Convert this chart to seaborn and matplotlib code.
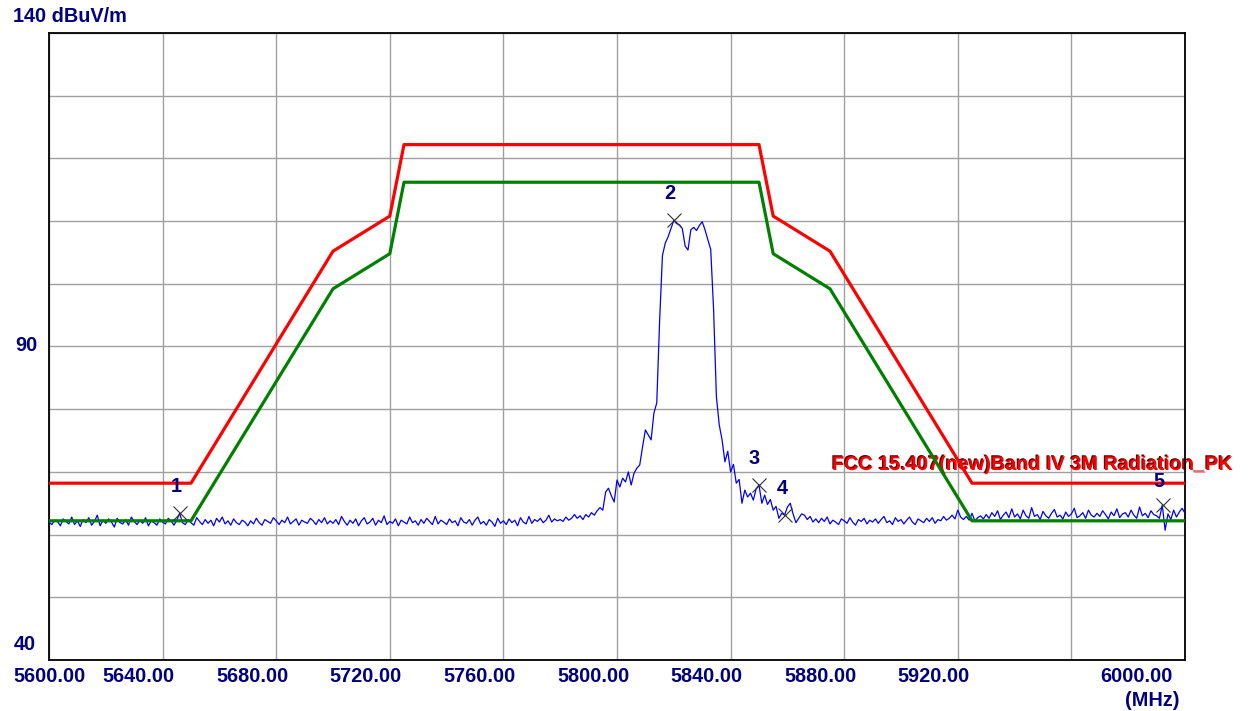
import numpy as np
import pandas as pd
import matplotlib
matplotlib.use("Agg")
import matplotlib.pyplot as plt
import matplotlib.patheffects as pe
from matplotlib.transforms import ScaledTranslation
import seaborn as sns

# ---------------- data ----------------
freq_start = 5600.0
freq_step = 1.0
trace_level = [
    62.0, 61.6, 62.3, 62.1, 61.4, 62.5, 62.1, 61.7, 62.8, 61.6,
    62.2, 61.3, 62.4, 61.9, 62.7, 61.5, 62.1, 63.1, 61.4, 62.3,
    61.8, 62.5, 62.0, 61.2, 62.6, 61.9, 61.7, 62.4, 61.5, 62.8,
    62.1, 61.6, 62.3, 61.8, 62.7, 61.4, 62.2, 61.9, 61.5, 62.5,
    62.0, 61.7, 62.6, 62.2, 61.5, 62.3, 63.4, 61.9, 61.6, 62.4,
    61.9, 61.5, 62.7, 62.1, 61.6, 62.4, 61.8, 62.3, 61.4, 62.6,
    62.0, 62.8, 61.7, 62.2, 61.5, 62.5, 61.9, 61.6, 62.3, 62.0,
    61.4, 62.2, 61.7, 62.6, 61.9, 61.5, 62.4, 62.1, 61.8, 62.7,
    62.2, 61.6, 62.3, 61.9, 62.8, 61.7, 62.1, 62.5, 61.5, 62.3,
    62.0, 61.8, 62.6, 62.2, 61.6, 62.4, 61.9, 62.7, 61.7, 62.2,
    61.8, 62.4, 61.6, 62.9, 62.1, 61.5, 62.3, 61.8, 62.5, 61.4,
    62.2, 62.7, 61.7, 62.0, 62.6, 61.5, 62.3, 61.9, 63.0, 61.6,
    62.1, 61.8, 62.5, 61.4, 62.3, 62.0, 61.7, 62.8, 61.9, 62.2,
    61.5, 62.4, 61.8, 62.6, 62.1, 61.6, 62.9, 61.7, 62.3, 62.0,
    61.6, 62.5, 61.9, 62.2, 61.4, 62.7, 62.0, 61.8, 62.4, 61.5,
    62.3, 62.8, 61.7, 62.1, 61.5, 62.4, 62.0, 61.3, 62.6, 61.8,
    62.2, 61.6, 62.5, 61.9, 62.3, 61.4, 62.7, 62.0, 61.7, 62.9,
    61.8, 62.4, 62.1, 62.6, 61.9, 62.3, 63.1, 62.0, 62.5, 62.2,
    62.4, 62.1, 62.8, 62.3, 62.6, 63.2, 62.6, 63.0, 62.4, 63.2,
    62.8, 63.5, 63.1, 63.8, 64.3, 63.9, 66.8, 67.4, 66.2, 65.2,
    68.7, 67.6, 69.0, 68.4, 70.0, 67.9, 69.8, 70.6, 71.1, 74.0,
    76.7, 75.9, 75.1, 79.4, 81.0, 94.0, 104.5, 106.5, 107.5, 108.8,
    110.1, 109.6, 109.4, 108.8, 106.0, 105.4, 108.6, 109.0, 108.5, 109.3,
    109.9, 108.6, 107.0, 105.5, 96.0, 82.0, 77.5, 75.1, 71.6, 73.3,
    70.0, 71.2, 68.2, 68.8, 65.0, 67.1, 66.0, 66.6, 65.5, 67.3,
    67.9, 65.0, 66.3, 64.8, 65.6, 63.9, 64.5, 62.6, 63.4, 63.1,
    64.4, 65.0, 63.3, 61.9, 62.6, 63.3, 63.1, 62.4, 62.9, 62.0,
    62.5, 61.9, 62.6, 62.1, 62.8, 61.7, 62.3, 62.0, 61.6, 62.5,
    62.2, 61.8, 62.7, 62.0, 61.5, 62.4, 62.1, 62.6, 61.7, 62.3,
    62.0, 62.5, 61.8, 62.4, 62.9, 61.9, 62.2, 61.6, 62.7, 62.1,
    62.4, 61.7, 62.3, 62.8, 62.0, 61.6, 62.5, 62.2, 61.9, 62.6,
    62.1, 62.7, 61.8, 62.4, 62.2, 62.9, 62.3, 62.6, 63.1, 62.5,
    63.9, 62.8, 62.4, 62.9, 62.3, 63.4, 62.2, 62.7, 63.0, 62.5,
    63.2, 62.6, 63.5, 62.9, 63.8, 62.4, 63.1, 63.6, 62.7, 64.1,
    62.8, 63.3, 62.5, 63.9, 63.0, 62.6, 64.3, 62.9, 63.2, 62.4,
    63.7, 63.0, 62.6, 63.4, 64.0, 62.8, 63.1, 62.5, 63.6, 62.9,
    63.3, 64.2, 62.7, 63.0, 63.5, 62.6, 63.9, 63.1, 62.8, 63.4,
    62.9, 63.8, 63.2, 62.5, 63.6, 63.0, 64.1, 62.7, 63.3, 63.5,
    62.8, 63.9, 63.1, 62.6, 64.4, 63.0, 63.4, 62.7, 63.8, 63.2,
    63.0, 62.6, 64.7, 60.7, 63.3, 62.4, 63.9, 62.8, 63.6, 64.2,
    63.4,
]
trace_freq = freq_start + freq_step * np.arange(len(trace_level))

limit_freq = [5600, 5650, 5700, 5720, 5725, 5850, 5855, 5875, 5925, 6000]
limit_pk = [68.2, 68.2, 105.2, 110.8, 122.2, 122.2, 110.8, 105.2, 68.2, 68.2]
margin_level = [62.2, 62.2, 99.2, 104.8, 116.2, 116.2, 104.8, 99.2, 62.2, 62.2]

marker_ids = ["1", "2", "3", "4", "5"]
marker_freq = [5646.3, 5820.0, 5849.9, 5859.3, 5992.1]
marker_level = [63.4, 110.1, 67.9, 63.1, 64.7]

x_ticks = [5600, 5640, 5680, 5720, 5760, 5800, 5840, 5880, 5920, 5960, 6000]
x_tick_labels = ["5600.00", "5640.00", "5680.00", "5720.00", "5760.00", "5800.00",
                 "5840.00", "5880.00", "5920.00", "", "6000.00"]
y_ticks = [40, 50, 60, 70, 80, 90, 100, 110, 120, 130, 140]
limit_label = "FCC 15.407(new)Band IV 3M Radiation_PK"

# ---------------- style ----------------
sns.set_style("white")
plt.rcParams['font.family'] = ['Liberation Sans', 'DejaVu Sans']
NAVY = '#000080'
FS = 14.3

fig = plt.figure(figsize=(12.49, 7.11), dpi=100)
ax = fig.add_axes([49 / 1249, 51 / 711, 1136 / 1249, 627 / 711])

df_trace = pd.DataFrame({"freq": trace_freq, "level": trace_level})
df_lim = pd.DataFrame({"freq": limit_freq, "pk": limit_pk, "margin": margin_level})

sns.lineplot(data=df_trace, x="freq", y="level", color="#0000ff", linewidth=0.9,
             ax=ax, zorder=3, sort=False)
sns.lineplot(data=df_lim, x="freq", y="margin", color="#008000", linewidth=2.3,
             ax=ax, zorder=4, sort=False)
sns.lineplot(data=df_lim, x="freq", y="pk", color="#ff0000", linewidth=2.3,
             ax=ax, zorder=4, sort=False)

ax.plot(marker_freq, marker_level, linestyle='none', marker='x', color='#303030',
        markersize=10.5, markeredgewidth=0.8, zorder=5)
label_offsets = [(-4, 27), (-4, 27), (-5, 27), (-3, 27), (-4, 24)]
for mid, f, v, off in zip(marker_ids, marker_freq, marker_level, label_offsets):
    ax.annotate(mid, (f, v), xytext=off, textcoords='offset pixels',
                ha='center', va='center', color=NAVY, fontweight='bold',
                fontsize=FS, zorder=6)

ax.text(6017.3, 70.3, limit_label, color='#ff0000', fontsize=FS, fontweight='bold',
        ha='right', va='baseline', clip_on=False, zorder=2,
        path_effects=[pe.SimplePatchShadow(offset=(-0.8, 0.8), shadow_rgbFace='#500000', alpha=1.0),
                      pe.Normal()])

ax.set_xlim(5600, 6000)
ax.set_ylim(40, 140)
ax.set_xticks(x_ticks)
ax.set_xticklabels(x_tick_labels)
ax.set_yticks(y_ticks)
ax.set_yticklabels([""] * len(y_ticks))
ax.set_xlabel("")
ax.set_ylabel("")
ax.tick_params(axis='both', length=0)
ax.tick_params(axis='x', pad=5, labelsize=FS, labelcolor=NAVY)
for lab in ax.get_xticklabels():
    lab.set_fontweight('bold')

x_offsets = [1, -24, -24, -24, -24, -24, -24, -24, -24, 0, -49]
for lab, dx in zip(ax.get_xticklabels(), x_offsets):
    lab.set_transform(lab.get_transform() + ScaledTranslation(dx / 100, 0, fig.dpi_scale_trans))

ax.grid(True, color='#a0a0a0', linewidth=1.0)
ax.set_axisbelow(True)
for s in ax.spines.values():
    s.set_color('black')
    s.set_linewidth(1.3)
    s.set_visible(True)

fig.text(13 / 1249, 1 - 17 / 711, "140 dBuV/m", ha='left', va='center',
         color=NAVY, fontsize=FS, fontweight='bold')
fig.text(37 / 1249, 1 - 345 / 711, "90", ha='right', va='center',
         color=NAVY, fontsize=FS, fontweight='bold')
fig.text(36 / 1249, 1 - 645 / 711, "40", ha='right', va='center',
         color=NAVY, fontsize=FS, fontweight='bold')
fig.text(1152 / 1249, 1 - 700 / 711, "(MHz)", ha='center', va='center',
         color=NAVY, fontsize=FS, fontweight='bold')

fig.savefig("out.png", dpi=100, facecolor='white')
